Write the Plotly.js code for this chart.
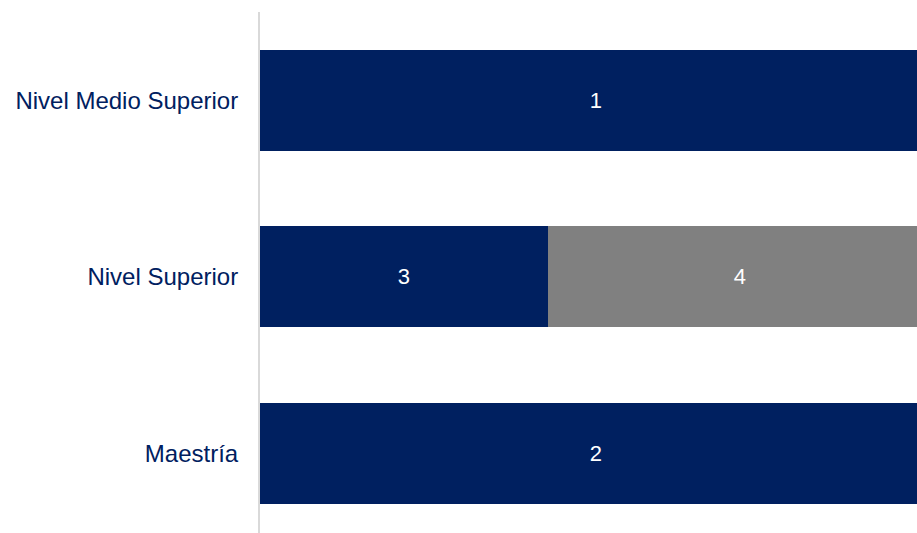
<!DOCTYPE html>
<html>
<head>
<meta charset="utf-8">
<script src="https://cdn.plot.ly/plotly-3.0.1.min.js"></script>
<style>html,body{margin:0;padding:0;background:#fff;}#chart{width:917px;height:533px;}</style>
</head>
<body>
<div id="chart"></div>
<script>
const categories = ["Maestría", "Nivel Superior", "Nivel Medio Superior"];
const seriesNavy = [2, 3, 1];
const seriesGray = [null, 4, null];
const navy = "#002060";
const gray = "#808080";

function labels(arr){ return arr.map(v => v == null ? "" : String(v)); }

const traces = [
  {type:"bar", orientation:"h", y:categories, x:seriesNavy, marker:{color:navy},
   text:labels(seriesNavy), textposition:"inside", insidetextanchor:"middle", textangle:0,
   textfont:{color:"#ffffff", size:22, family:"Liberation Sans, Arial, sans-serif"}, hoverinfo:"skip"},
  {type:"bar", orientation:"h", y:categories, x:seriesGray, marker:{color:gray},
   text:labels(seriesGray), textposition:"inside", insidetextanchor:"middle", textangle:0,
   textfont:{color:"#ffffff", size:22, family:"Liberation Sans, Arial, sans-serif"}, hoverinfo:"skip"}
];

const layout = {
  width:917, height:533,
  margin:{l:260, r:0, t:12, b:0},
  barmode:"stack", barnorm:"percent", bargap:0.428,
  showlegend:false,
  paper_bgcolor:"#ffffff", plot_bgcolor:"#ffffff",
  font:{family:"Liberation Sans, Arial, sans-serif"},
  xaxis:{range:[0, 97.77], visible:false, fixedrange:true},
  yaxis:{type:"category", categoryarray:categories, categoryorder:"array",
         range:[-0.452, 2.5], showline:true, linecolor:"#d9d9d9", linewidth:2,
         showgrid:false, zeroline:false, ticks:"", ticklabelstandoff:15,
         tickfont:{size:24, color:navy, family:"Liberation Sans, Arial, sans-serif"}},
  hovermode:false
};

Plotly.newPlot("chart", traces, layout, {displayModeBar:false, staticPlot:true});
</script>
</body>
</html>
